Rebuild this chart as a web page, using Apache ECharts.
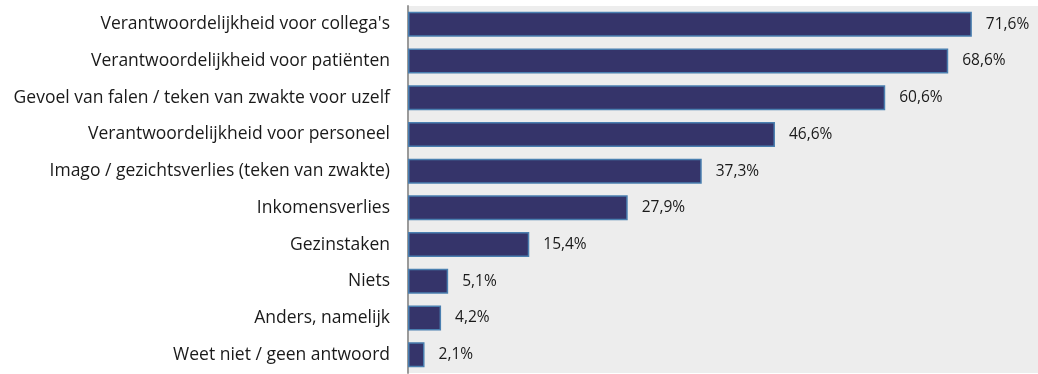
<!DOCTYPE html>
<html>
<head>
<meta charset="utf-8">
<script src="https://cdn.jsdelivr.net/npm/echarts@6/dist/echarts.min.js"></script>
<style>
  html, body { margin: 0; padding: 0; background: #ffffff; }
  #chart { width: 1038px; height: 374px; }
</style>
</head>
<body>
<div id="chart"></div>
<script>
// Categories, top to bottom
const categories = [
  "Verantwoordelijkheid voor collega's",
  "Verantwoordelijkheid voor patiënten",
  "Gevoel van falen / teken van zwakte voor uzelf",
  "Verantwoordelijkheid voor personeel",
  "Imago / gezichtsverlies (teken van zwakte)",
  "Inkomensverlies",
  "Gezinstaken",
  "Niets",
  "Anders, namelijk",
  "Weet niet / geen antwoord"
];
// Share of respondents, percent
const values = [71.6, 68.6, 60.6, 46.6, 37.3, 27.9, 15.4, 5.1, 4.2, 2.1];

const font = '"Open Sans", sans-serif';

const chart = echarts.init(document.getElementById('chart'), null, { renderer: 'canvas' });
chart.setOption({
  animation: false,
  grid: {
    left: 408, right: 0, top: 6, bottom: 1,
    show: true, backgroundColor: '#ededed', borderWidth: 0
  },
  xAxis: {
    type: 'value', min: 0, max: 80,
    axisLine: { show: false }, axisTick: { show: false },
    axisLabel: { show: false }, splitLine: { show: false }
  },
  yAxis: {
    type: 'category', data: categories, inverse: true,
    axisLine: { show: true, lineStyle: { color: '#9a9a9a', width: 2 } },
    axisTick: { show: false },
    axisLabel: { margin: 18, color: '#1a1a1a', fontSize: 17.5, fontFamily: font }
  },
  series: [{
    type: 'bar', data: values, barWidth: 25,
    itemStyle: { color: '#35346a', borderColor: '#4a7fb0', borderWidth: 1.5 },
    label: {
      show: true, position: 'right', distance: 14,
      color: '#1a1a1a', fontSize: 15.5, fontFamily: font,
      formatter: p => p.value.toFixed(1).replace('.', ',') + '%'
    }
  }]
});
</script>
</body>
</html>
